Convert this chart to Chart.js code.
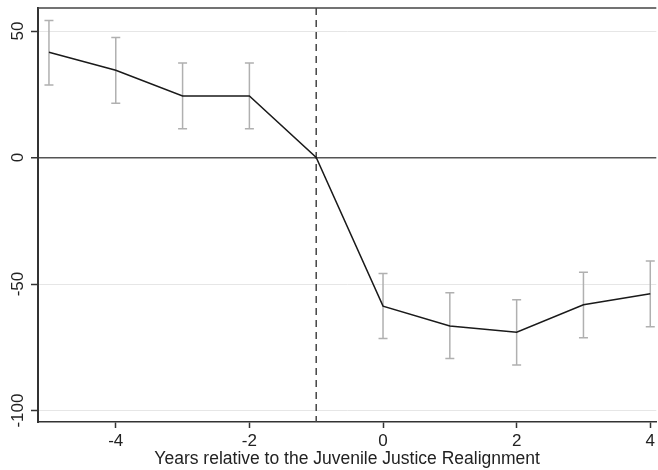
<!DOCTYPE html>
<html lang="en">
<head>
  <meta charset="UTF-8">
  <title>Event study</title>
  <script src="https://cdn.jsdelivr.net/npm/chart.js"></script>
  <style>
    html, body { margin: 0; padding: 0; background: #fff; }
    #wrap { width: 658px; height: 470px; position: relative; }
  </style>
</head>
<body>
  <div id="wrap"><canvas id="grafica"></canvas></div>

  <script>
    // years relative to the realignment
    var anios = [-5, -4, -3, -2, -1, 0, 1, 2, 3, 4];
    var coef = [41.6, 34.5, 24.3, 24.3, 0, -58.7, -66.6, -69.0, -58.2, -53.8];
    var ciAlto = [54.2, 47.4, 37.4, 37.4, null, -45.8, -53.4, -56.2, -45.3, -40.9];
    var ciBajo = [28.7, 21.5, 11.4, 11.4, null, -71.5, -79.4, -82.0, -71.2, -66.9];
    var ticksX = [-4, -2, 0, 2, 4];
    var ticksY = [50, 0, -50, -100];
    var lineaEvento = -1;

    var puntos = [];
    for (var i = 0; i < anios.length; i++) {
      puntos.push({ x: anios[i], y: coef[i] });
    }

    var fuente = "'Liberation Sans', Arial, sans-serif";

    var extras = {
      id: 'extras',
      beforeDatasetsDraw: function (chart) {
        var ctx = chart.ctx, a = chart.chartArea;
        var sx = chart.scales.x;
        // top frame
        ctx.save();
        ctx.strokeStyle = '#444';
        ctx.lineWidth = 1.5;
        ctx.beginPath();
        ctx.moveTo(a.left, a.top);
        ctx.lineTo(a.right, a.top);
        ctx.stroke();
        // dashed event line
        var px = sx.getPixelForValue(lineaEvento);
        ctx.setLineDash([7, 5]);
        ctx.beginPath();
        ctx.moveTo(px, a.top);
        ctx.lineTo(px, a.bottom);
        ctx.stroke();
        ctx.restore();

        // error bars
        var sy = chart.scales.y;
        ctx.save();
        ctx.strokeStyle = '#b0b0b0';
        ctx.lineWidth = 1.5;
        for (var i = 0; i < anios.length; i++) {
          if (ciAlto[i] === null) continue;
          var x = sx.getPixelForValue(anios[i]);
          var y1 = sy.getPixelForValue(ciAlto[i]);
          var y2 = sy.getPixelForValue(ciBajo[i]);
          ctx.beginPath();
          ctx.moveTo(x, y1); ctx.lineTo(x, y2);
          ctx.moveTo(x - 4.5, y1); ctx.lineTo(x + 4.5, y1);
          ctx.moveTo(x - 4.5, y2); ctx.lineTo(x + 4.5, y2);
          ctx.stroke();
        }
        ctx.restore();
      },
      afterDraw: function (chart) {
        // rotated y tick labels
        var ctx = chart.ctx, sy = chart.scales.y;
        ctx.save();
        ctx.fillStyle = '#222';
        ctx.font = '17px ' + fuente;
        ctx.textAlign = 'center';
        ctx.textBaseline = 'middle';
        for (var i = 0; i < ticksY.length; i++) {
          ctx.save();
          ctx.translate(18, sy.getPixelForValue(ticksY[i]));
          ctx.rotate(-Math.PI / 2);
          ctx.fillText(String(ticksY[i]), 0, 0);
          ctx.restore();
        }
        ctx.restore();
      }
    };

    new Chart(document.getElementById('grafica'), {
      type: 'line',
      data: {
        datasets: [{
          data: puntos,
          borderColor: '#1a1a1a',
          borderWidth: 1.5,
          pointRadius: 0,
          tension: 0,
          fill: false
        }]
      },
      options: {
        responsive: true,
        maintainAspectRatio: false,
        animation: false,
        layout: { padding: { top: 8, left: 0, right: 0, bottom: 0 } },
        plugins: {
          legend: { display: false },
          tooltip: { enabled: false }
        },
        scales: {
          x: {
            type: 'linear',
            min: -5.164,
            max: 4.09,
            afterBuildTicks: function (s) {
              s.ticks = ticksX.map(function (v) { return { value: v }; });
            },
            afterFit: function (s) { s.height = 48; },
            grid: { drawOnChartArea: false, tickLength: 6, tickColor: '#333', tickWidth: 1.5 },
            border: { color: '#333', width: 1.5 },
            ticks: {
              color: '#222',
              font: { family: fuente, size: 17 },
              padding: 3,
              maxRotation: 0,
              callback: function (v) { return v; }
            },
            title: {
              display: true,
              text: 'Years relative to the Juvenile Justice Realignment',
              color: '#222',
              font: { family: fuente, size: 17.5 },
              padding: { top: 0, bottom: 0 }
            }
          },
          y: {
            min: -104.5,
            max: 59.1,
            afterBuildTicks: function (s) {
              s.ticks = ticksY.map(function (v) { return { value: v }; });
            },
            afterFit: function (s) { s.width = 38; },
            grid: {
              color: function (c) { return c.tick && c.tick.value === 0 ? '#555' : '#e6e6e6'; },
              lineWidth: function (c) { return c.tick && c.tick.value === 0 ? 1.5 : 1; },
              tickColor: '#333',
              tickWidth: 1.5,
              tickLength: 7
            },
            border: { color: '#333', width: 2 },
            ticks: { display: false }
          }
        }
      },
      plugins: [extras]
    });
  </script>
</body>
</html>
